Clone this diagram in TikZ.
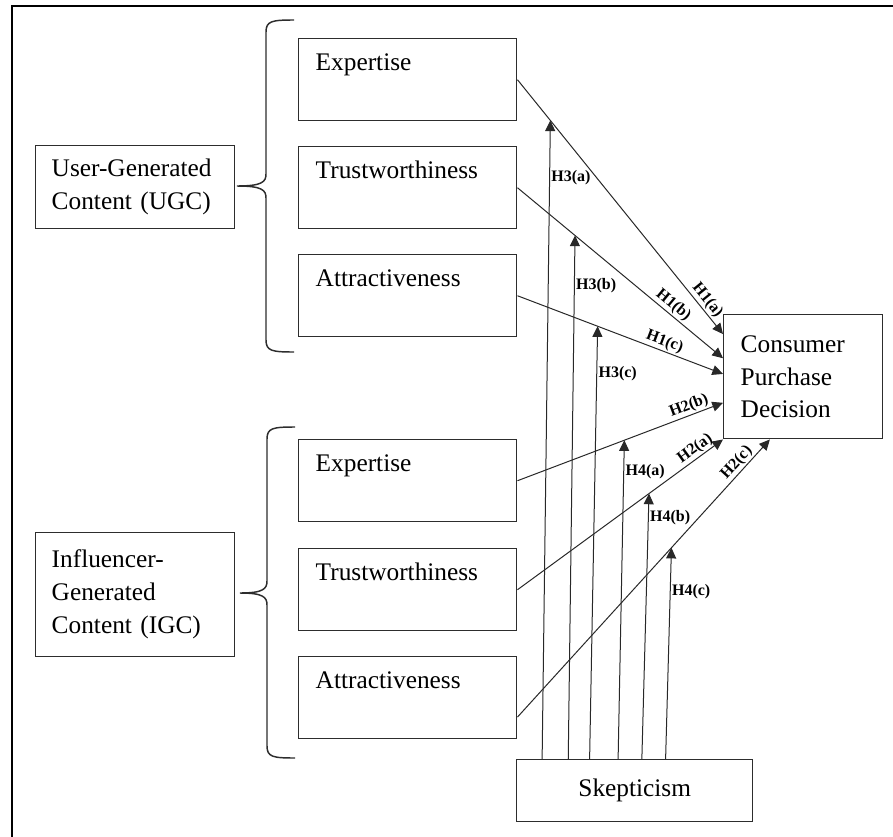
\documentclass[tikz,border=0pt]{standalone}
\usepackage{fontspec}
\setmainfont{Liberation Serif}
\usetikzlibrary{arrows.meta,calc}

\definecolor{boxgray}{RGB}{45,45,45}
\definecolor{linegray}{RGB}{40,40,40}

\tikzset{
  groupbox/.style={draw=boxgray, line width=1.1pt, anchor=north west, inner xsep=12pt, inner ysep=0pt,
    text width=125.25pt, align=left, font=\fontsize{19}{24.75}\selectfont},
  subbox/.style={draw=boxgray, line width=1.1pt, anchor=north west, inner xsep=12.75pt, inner ysep=0pt,
    text width=138pt, text height=24pt, text depth=37.5pt, align=left, font=\fontsize{19}{24}\selectfont},
  hyp/.style={draw=linegray, line width=0.75pt, -{Triangle[length=8pt,width=7.5pt]}},
  hlab/.style={font=\fontsize{12}{14}\selectfont\bfseries, inner sep=1pt}
}

\begin{document}
\begin{tikzpicture}[x=0.75pt,y=0.75pt,yscale=-1,xscale=1]
\useasboundingbox (0,0) rectangle (893,836);

%Frame
\draw [line width=1.9pt] (12,6) rectangle (910,850);

% Group boxes
\node [groupbox, minimum height=62.25pt] (ugc) at (35,145) {User-Generated\\Content (UGC)};
\node [groupbox, minimum height=93pt] (igc) at (35,532) {Influencer-\\Generated\\Content (IGC)};

% Dimension boxes
\node [subbox] (eu) at (298,38) {Expertise};
\node [subbox] (tu) at (298,146) {Trustworthiness};
\node [subbox] (au) at (298,254) {Attractiveness};
\node [subbox] (ei) at (298,439) {Expertise};
\node [subbox] (ti) at (298,548) {Trustworthiness};
\node [subbox] (ai) at (298,656) {Attractiveness};

% Outcome and moderator
\node [groupbox, text width=93.75pt, inner xsep=12.75pt, minimum height=93pt, font=\fontsize{19}{24.4}\selectfont] (cp) at (723,314) {Consumer\\Purchase\\Decision\\[-6pt]};
\node [draw=boxgray, line width=1.1pt, anchor=north west, minimum width=177pt, minimum height=46.5pt, font=\fontsize{19}{24}\selectfont] (sk) at (516,759) {Skepticism};

%Shape: Brace (UGC)
\draw [boxgray, line width=1.1pt] (294,20) .. controls (272,20) and (266,21) .. (266,32) -- (266,174) .. controls (266,182) and (262,186) .. (237,186) .. controls (262,186) and (266,190) .. (266,198) -- (266,340) .. controls (266,351) and (272,352) .. (294,352) ;
%Shape: Brace (IGC)
\draw [boxgray, line width=1.1pt] (295,427) .. controls (273,427) and (267,428) .. (267,439) -- (267,581) .. controls (267,589) and (263,593) .. (240,593) .. controls (263,593) and (267,597) .. (267,605) -- (267,746) .. controls (267,757) and (273,758) .. (295,758) ;

% UGC paths
\draw [hyp] (eu.east) -- coordinate[pos=0.16] (m3a) node[hlab, rotate=-50.9, above, pos=0.89] {H1(a)} (cp.152);
\draw [hyp] (tu.east) -- coordinate[pos=0.28] (m3b) node[hlab, rotate=-39.6, above, pos=0.73] {H1(b)} (cp.167);
\draw [hyp] (au.east) -- coordinate[pos=0.39] (m3c) node[hlab, rotate=-20.6, above, pos=0.70] {H1(c)} (cp.178);

% IGC paths
\draw [hyp] (ei.east) -- coordinate[pos=0.52] (m4a) node[hlab, rotate=20.6, above, pos=0.85] {H2(b)} (cp.198);
\draw [hyp] (ti.east) -- coordinate[pos=0.64] (m4b) node[hlab, rotate=36.1, above, pos=0.89] {H2(a)} (cp.south west);
\draw [hyp] (ai.-10) -- coordinate[pos=0.61] (m4c) node[hlab, rotate=47.7, above, pos=0.895] {H2(c)} (cp.242);

% Moderation paths
\draw [hyp] ($(sk.north west)!0.11!(sk.north east)$) -- node[hlab, right, pos=0.91] {H3(a)} (m3a);
\draw [hyp] ($(sk.north west)!0.22!(sk.north east)$) -- node[hlab, right, pos=0.905] {H3(b)} (m3b);
\draw [hyp] ($(sk.north west)!0.31!(sk.north east)$) -- node[hlab, right, pos=0.89] {H3(c)} (m3c);
\draw [hyp] ($(sk.north west)!0.43!(sk.north east)$) -- node[hlab, right, pos=0.90] {H4(a)} (m4a);
\draw [hyp] ($(sk.north west)!0.53!(sk.north east)$) -- node[hlab, right, pos=0.91] {H4(b)} (m4b);
\draw [hyp] ($(sk.north west)!0.63!(sk.north east)$) -- node[hlab, right, pos=0.79] {H4(c)} (m4c);

\end{tikzpicture}
\end{document}
